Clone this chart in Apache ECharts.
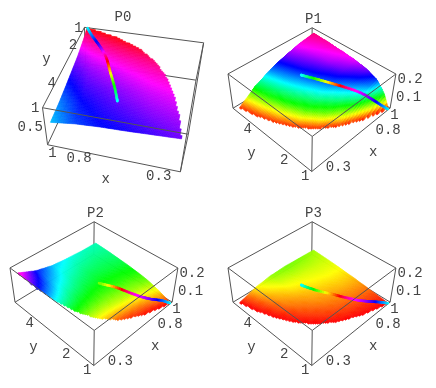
<!DOCTYPE html>
<html><head><meta charset="utf-8">
<style>html,body{margin:0;padding:0;background:#fff}#c{width:436px;height:388px}</style>
<script src="https://cdn.jsdelivr.net/npm/echarts@6/dist/echarts.min.js"></script>
</head><body><div id="c"></div>
<script>
// ---- values ----
const panelNames = ['P0','P1','P2','P3'];
const xTicks = [1, 0.8, 0.3];
const yTicks = [1, 2, 4];
const zTicksP0 = [1, 0.5];
const zTicksPn = [0.2, 0.1];
const surfaceY = [1, 1.3, 1.7, 2.2, 2.8, 3.5, 4.2, 5];
const surfaceS = [0, 0.2, 0.4, 0.6, 0.8, 1];
const boundaryX = [1, 0.77, 0.59, 0.455, 0.357, 0.286, 0.238, 0.2];
const surfaceP0 = [
 [1,1,1,1,1,1],
 [.99,.98,.97,.95,.94,.92],
 [.97,.95,.93,.91,.89,.85],
 [.92,.9,.88,.85,.82,.77],
 [.87,.85,.82,.79,.76,.71],
 [.82,.8,.77,.74,.71,.64],
 [.78,.76,.73,.7,.66,.58],
 [.74,.71,.68,.66,.62,.54]];
const surfaceP1 = [
 [.002,.002,.002,.002,.002,.002],
 [.004,.02,.036,.052,.066,.076],
 [.006,.04,.068,.094,.114,.126],
 [.006,.052,.08,.106,.13,.15],
 [.006,.06,.092,.122,.146,.164],
 [.006,.064,.1,.132,.156,.172],
 [.006,.068,.108,.14,.162,.178],
 [.006,.072,.116,.148,.17,.184]];
const surfaceP2 = [
 [0,0,0,0,0,0],
 [.002,.004,.006,.01,.014,.018],
 [.01,.014,.018,.024,.03,.036],
 [.034,.036,.04,.044,.048,.054],
 [.064,.06,.058,.06,.062,.066],
 [.1,.084,.076,.072,.074,.076],
 [.136,.108,.092,.084,.082,.084],
 [.176,.132,.108,.098,.092,.09]];
const surfaceP3 = [
 [0,0,0,0,0,0],
 [0,.001,.002,.0024,.0028,.004],
 [0,.004,.006,.008,.009,.01],
 [0,.007,.012,.015,.017,.018],
 [0,.01,.018,.022,.025,.026],
 [0,.016,.024,.03,.033,.034],
 [0,.022,.034,.038,.04,.04],
 [0,.032,.048,.052,.05,.046]];
const curveX = [.995,.95,.895,.84,.79,.74,.68,.64,.63];
const curveY = [1.02,1.25,1.52,1.8,2.15,2.65,3.25,3.72,3.85];
const curveHueP0 = [.5,.58,.67,.78,.95,1.12,1.33,1.45,1.5];
const curveHuePn = [.5,.6,.72,.8,.88,1.06,1.27,1.44,1.5];
// height of the curve; null where it dips under the sheet
const curveP0 = [1,.93,.89,.84,.8,.75,.71,.69,.68];
const curveP1 = [.002,.031,.068,.1,.117,.124,.13,.13,.13];
const curveP2 = [.002,.018,.026,.04,.056,.069,.072,null,.09];
const curveP3 = [.001,.008,.012,.018,.024,.026,.028,.032,.035];

// ---- layout ----
const W = 218, H = 194;
const view1 = [[94,171.7],[171.7,108.3],[15,108.3],[94,60],[94,136],[178.3,74],[10,74],[94,28]];
const labelsPn = {
  x:{align:'left',off:[[1.7,6.3],[3.5,7.3],[.3,7]]},
  y:{align:'right',off:[[-2.3,5],[-2.3,5.3],[-1.3,4.7]]},
  z:{align:'left',off:[[1.5,5.3],[3,6]],u:1,v:0},
  xt:[.6,18.7,15.3], yt:[3,-20,14]
};
const panels = [
 {ox:0,oy:0,corners:[[196.7,79.3],[82,65],[181.7,171.7],[50,144],[203,42.7],[88.3,26.7],[186.7,135.7],[40,107.3]],
  z:[.05,1],hue:1,surf:surfaceP0,curve:curveP0,hues:curveHueP0,zt:zTicksP0,titleX:118,titleY:12,xv:1,over:[[6,7],[3,7],[2,3]],
  labels:{x:{align:'center',off:[[2,8],[-1,7],[0,9]]},y:{align:'right',off:[[-4.5,.5],[-1.5,1],[-3.5,2]]},z:{align:'right',off:[[-3,.5],[-2.5,-.5]],u:1,v:1},xt:[.6,-5,22],yt:[3,-23,-3],yw:1}},
 {ox:218,oy:0,corners:view1,z:[0,.2],hue:.2,surf:surfaceP1,curve:curveP1,hues:curveHuePn,zt:zTicksPn,titleX:90.5,titleY:14,xv:0,over:[[4,5],[4,6]],labels:labelsPn},
 {ox:0,oy:194,corners:view1,z:[0,.2],hue:.2,surf:surfaceP2,curve:curveP2,hues:curveHuePn,zt:zTicksPn,titleX:90.5,titleY:14,xv:0,over:[[4,5],[4,6]],labels:labelsPn},
 {ox:218,oy:194,corners:view1,z:[0,.2],hue:.2,surf:surfaceP3,curve:curveP3,hues:curveHuePn,zt:zTicksPn,titleX:90.5,titleY:14,xv:0,over:[[4,5],[4,6]],labels:labelsPn}
];
const xRange=[.17,1.02], yRange=[1,5.2];
const corners3 = [[0,0,0],[1,0,0],[0,1,0],[1,1,0],[0,0,1],[1,0,1],[0,1,1],[1,1,1]];
const edges = [[0,1],[0,2],[1,3],[2,3],[4,5],[4,6],[5,7],[6,7],[0,4],[1,5],[2,6],[3,7]];
const LINE='#555', TEXT='#444', FONT='14px "Liberation Mono", monospace';

// fit a projective camera through the eight box corners
function fitCamera(pts){
  const n=11,A=[...Array(n)].map(()=>Array(n+1).fill(0));
  corners3.forEach((c,i)=>{
    const X=pts[i][0]/100,Y=pts[i][1]/100,[u,v,w]=c;
    [[u,v,w,1,0,0,0,0,-X*u,-X*v,-X*w,X],[0,0,0,0,u,v,w,1,-Y*u,-Y*v,-Y*w,Y]].forEach(r=>{
      for(let a=0;a<n;a++)for(let b=0;b<=n;b++)A[a][b]+=r[a]*r[b];
    });
  });
  for(let i=0;i<n;i++){
    let m=i;for(let k=i+1;k<n;k++)if(Math.abs(A[k][i])>Math.abs(A[m][i]))m=k;
    [A[i],A[m]]=[A[m],A[i]];
    for(let k=0;k<n;k++)if(k!==i){const f=A[k][i]/A[i][i];for(let b=i;b<=n;b++)A[k][b]-=f*A[i][b];}
  }
  return A.map((r,i)=>r[n]/r[i]);
}
panels.forEach(p=>p.cam=fitCamera(p.corners));
function projUVW(p,u,v,w){const c=p.cam,d=c[8]*u+c[9]*v+c[10]*w+1;
  return [100*(c[0]*u+c[1]*v+c[2]*w+c[3])/d,100*(c[4]*u+c[5]*v+c[6]*w+c[7])/d];}
function proj(p,x,y,z){return projUVW(p,(x-xRange[0])/(xRange[1]-xRange[0]),(y-yRange[0])/(yRange[1]-yRange[0]),(z-p.z[0])/(p.z[1]-p.z[0]));}
function rowAt(y){let j=0;while(j<surfaceY.length-2&&y>surfaceY[j+1])j++;
  return [j,Math.min(1,Math.max(0,(y-surfaceY[j])/(surfaceY[j+1]-surfaceY[j])))];}
function edgeAt(y){const [j,t]=rowAt(y);return boundaryX[j]*(1-t)+boundaryX[j+1]*t;}
function heightAt(tab,x,y){
  const [j,t]=rowAt(y),e=edgeAt(y),s=e>=.999?1:Math.min(1,Math.max(0,(x-e)/(1-e)));
  let i=0;while(i<surfaceS.length-2&&s>surfaceS[i+1])i++;
  const f=(s-surfaceS[i])/(surfaceS[i+1]-surfaceS[i]);
  return (tab[j][i]*(1-f)+tab[j][i+1]*f)*(1-t)+(tab[j+1][i]*(1-f)+tab[j+1][i+1]*f)*t;
}
function hue(h){h=((h%1)+1)%1;const a=h*6,k=Math.floor(a),f=a-k,q=1-f;
  const r=[[1,f,0],[q,1,0],[0,1,f],[0,q,1],[f,0,1],[1,0,q]][k%6];
  return 'rgb('+r.map(c=>Math.round(c*255)).join(',')+')';}
function spline(a,k,t){ // Catmull-Rom through the table values
  const p1=a[k],p2=a[k+1],p0=k>0&&a[k-1]!==null?a[k-1]:p1,p3=k+2<a.length&&a[k+2]!==null?a[k+2]:p2;
  return .5*(2*p1+(p2-p0)*t+(2*p0-5*p1+4*p2-p3)*t*t+(3*p1-p0-3*p2+p3)*t*t*t);
}

// shading lattice
const NX=70,NY=70,dx=(1-.2)/NX,dy=(5-1)/NY;
function latticeFor(p){
  const cells=[];
  for(let i=0;i<NX;i++)for(let j=0;j<NY;j++){
    const x=.2+(i+.5)*dx,y=1+(j+.5)*dy;
    if(x>=edgeAt(y))cells.push([i,j,proj(p,x,y,heightAt(p.surf,x,y))[1]]);
  }
  return cells.sort((a,b)=>a[2]-b[2]);
}
const series=[],grid=[],xAxis=[],yAxis=[],title=[];
panels.forEach((p,n)=>{
  grid.push({left:p.ox,top:p.oy,width:W,height:H});
  xAxis.push({type:'value',gridIndex:n,min:0,max:W,show:false});
  yAxis.push({type:'value',gridIndex:n,min:0,max:H,inverse:true,show:false});
  title.push({text:panelNames[n],left:p.ox+p.titleX,top:p.oy+p.titleY-7,textAlign:'center',
    textStyle:{fontFamily:'Liberation Mono',fontSize:14,fontWeight:'normal',color:TEXT}});
  const base={type:'custom',coordinateSystem:'cartesian2d',xAxisIndex:n,yAxisIndex:n,silent:true,animation:false,clip:false};
  const isOver=e=>p.over.some(o=>o[0]===e[0]&&o[1]===e[1]);
  const edgeItem=(api,e)=>{
    const a=api.coord(projUVW(p,...corners3[e[0]])),b=api.coord(projUVW(p,...corners3[e[1]]));
    return {type:'line',shape:{x1:a[0],y1:a[1],x2:b[0],y2:b[1]},style:{stroke:LINE,lineWidth:1}};
  };
  const under=edges.filter(e=>!isOver(e)),over=edges.filter(isOver);
  series.push({...base,name:panelNames[n]+' box back',z:2,data:under.map(e=>[e[0],e[1]]),
    renderItem:(ps,api)=>edgeItem(api,under[ps.dataIndex])});
  series.push({...base,name:panelNames[n]+' surface',z:3,data:latticeFor(p),
    renderItem:(ps,api)=>{
      const i=api.value(0),j=api.value(1),x0=.2+i*dx,y0=1+j*dy,x1=x0+dx,y1=y0+dy;
      const pt=(x,y)=>api.coord(proj(p,x,y,heightAt(p.surf,x,y)));
      const col=hue(heightAt(p.surf,(x0+x1)/2,(y0+y1)/2)/p.hue);
      return {type:'polygon',shape:{points:[pt(x0,y0),pt(x1,y0),pt(x1,y1),pt(x0,y1)]},style:{fill:col,stroke:col,lineWidth:.6}};
    }});
  const SUB=8,segs=[];
  for(let k=0;k<curveX.length-1;k++)for(let m=0;m<SUB;m++)if(p.curve[k]!==null&&p.curve[k+1]!==null)segs.push([k,m]);
  // the one hidden value only removes the stretch under the sheet
  series.push({...base,name:panelNames[n]+' curve',z:4,data:segs,
    renderItem:(ps,api)=>{
      const k=api.value(0),m=api.value(1);
      const at=t=>api.coord(proj(p,spline(curveX,k,t),spline(curveY,k,t),spline(p.curve,k,t)));
      const a=at(m/SUB),b=at((m+1)/SUB);
      return {type:'line',shape:{x1:a[0],y1:a[1],x2:b[0],y2:b[1]},
        style:{stroke:hue(spline(p.hues,k,(m+.5)/SUB)),lineWidth:2.6,lineCap:'round'}};
    }});
  series.push({...base,name:panelNames[n]+' box front',z:5,data:over.map(e=>[e[0],e[1]]),
    renderItem:(ps,api)=>edgeItem(api,over[ps.dataIndex])});
  // labels
  const L=p.labels,txt=[];
  xTicks.forEach((t,i)=>txt.push({t:String(t),a:L.x.align,at:proj(p,t,p.xv?yRange[1]:yRange[0],p.z[0]),o:L.x.off[i]}));
  yTicks.forEach((t,i)=>txt.push({t:String(t),a:L.y.align,at:proj(p,L.yw?1:xRange[0],t,L.yw?p.z[1]:p.z[0]),o:L.y.off[i]}));
  p.zt.forEach((t,i)=>txt.push({t:String(t),a:L.z.align,at:projUVW(p,L.z.u,L.z.v,(t-p.z[0])/(p.z[1]-p.z[0])),o:L.z.off[i]}));
  txt.push({t:'x',a:'center',at:proj(p,L.xt[0],p.xv?yRange[1]:yRange[0],p.z[0]),o:[L.xt[1],L.xt[2]]});
  txt.push({t:'y',a:'center',at:proj(p,L.yw?1:xRange[0],L.yt[0],L.yw?p.z[1]:p.z[0]),o:[L.yt[1],L.yt[2]]});
  series.push({...base,name:panelNames[n]+' labels',z:6,data:txt.map((_,i)=>[i,0]),
    renderItem:(ps,api)=>{
      const d=txt[ps.dataIndex],c=api.coord([d.at[0]+d.o[0],d.at[1]+d.o[1]]);
      return {type:'text',x:c[0],y:c[1],style:{text:d.t,fill:TEXT,font:FONT,align:d.a,verticalAlign:'middle'}};
    }});
});
echarts.init(document.getElementById('c'),null,{renderer:'canvas'}).setOption({animation:false,backgroundColor:'#fff',title,grid,xAxis,yAxis,tooltip:{show:false},series});
</script></body></html>
